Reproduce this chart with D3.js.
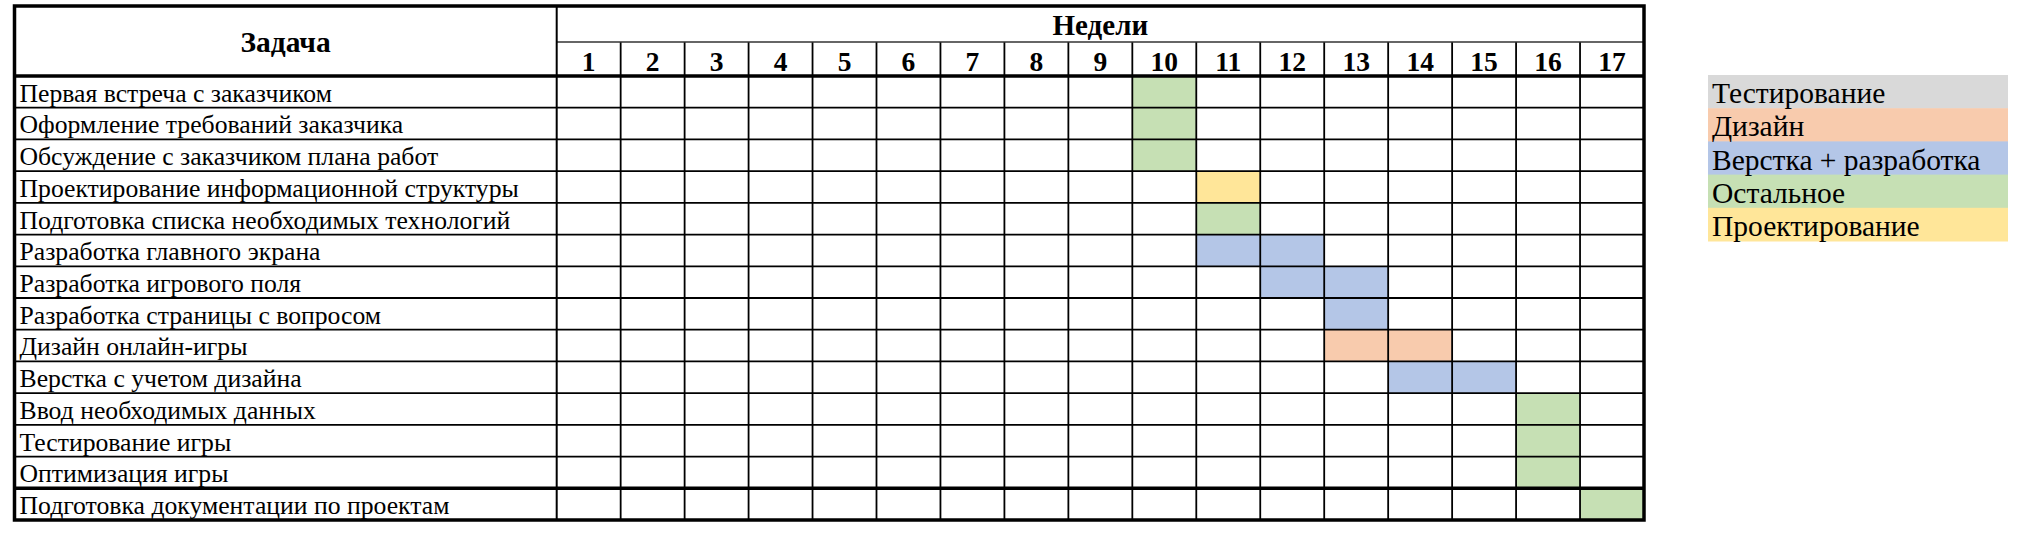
<!DOCTYPE html>
<html><head><meta charset="utf-8">
<script src="https://cdn.jsdelivr.net/npm/d3@7"></script>
<style>html,body{margin:0;padding:0;background:#fff;}svg{display:block;} svg text{font-family:"Liberation Serif","Times New Roman",serif;}</style>
</head><body>
<svg id="chart" width="2020" height="534"></svg>
<script>
const tasks = [
  "Первая встреча с заказчиком",
  "Оформление требований заказчика",
  "Обсуждение с заказчиком плана работ",
  "Проектирование информационной структуры",
  "Подготовка списка необходимых технологий",
  "Разработка главного экрана",
  "Разработка игрового поля",
  "Разработка страницы с вопросом",
  "Дизайн онлайн-игры",
  "Верстка с учетом дизайна",
  "Ввод необходимых данных",
  "Тестирование игры",
  "Оптимизация игры",
  "Подготовка документации по проектам"
];
const taskStartWeek = [10, 10, 10, 11, 11, 11, 12, 13, 13, 14, 16, 16, 16, 17];
const taskEndWeek   = [10, 10, 10, 11, 11, 12, 13, 13, 14, 15, 16, 16, 16, 17];
const taskCategory = [
  "Остальное", "Остальное", "Остальное", "Проектирование", "Остальное",
  "Верстка + разработка", "Верстка + разработка", "Верстка + разработка",
  "Дизайн", "Верстка + разработка", "Остальное", "Остальное", "Остальное", "Остальное"
];
const weekLabels = ["1","2","3","4","5","6","7","8","9","10","11","12","13","14","15","16","17"];
const categories = ["Тестирование", "Дизайн", "Верстка + разработка", "Остальное", "Проектирование"];
const categoryColors = ["#d9d9d9", "#f8cbad", "#b4c6e7", "#c6e0b4", "#ffe699"];

const svg = d3.select("#chart");

const tLeft = 14.5, taskRight = 556.7, tRight = 1644;
const tTop = 6, headMid = 42, headBottom = 76, tBottom = 520;

const x = d3.scaleBand().domain(weekLabels).range([taskRight, tRight]).paddingInner(0).paddingOuter(0);
const y = d3.scaleBand().domain(tasks).range([headBottom, tBottom]).paddingInner(0).paddingOuter(0);
const color = d3.scaleOrdinal().domain(categories).range(categoryColors);

const bars = tasks.map((t, i) => ({task: t, s: taskStartWeek[i], e: taskEndWeek[i], c: taskCategory[i]}));
svg.append("g").selectAll("rect").data(bars).join("rect")
  .attr("x", d => x(String(d.s)))
  .attr("y", d => y(d.task))
  .attr("width", d => x(String(d.e)) + x.bandwidth() - x(String(d.s)))
  .attr("height", y.bandwidth())
  .attr("fill", d => color(d.c));

const g = svg.append("g").attr("stroke", "#000").attr("fill", "none");
tasks.forEach((t, i) => {
  if (i === 0) return;
  const yy = y(t);
  const thick = (i === tasks.length - 1);
  g.append("line").attr("x1", tLeft).attr("x2", tRight).attr("y1", yy).attr("y2", yy)
    .attr("stroke-width", thick ? 3.5 : 1.8);
});
weekLabels.forEach((w, i) => {
  if (i === 0) return;
  const xx = x(w);
  g.append("line").attr("x1", xx).attr("x2", xx).attr("y1", headMid).attr("y2", tBottom).attr("stroke-width", 1.8);
});
g.append("line").attr("x1", taskRight).attr("x2", tRight).attr("y1", headMid).attr("y2", headMid)
  .attr("stroke-width", 1.5).attr("stroke", "#333");
g.append("line").attr("x1", taskRight).attr("x2", taskRight).attr("y1", tTop).attr("y2", tBottom).attr("stroke-width", 2);
g.append("line").attr("x1", tLeft).attr("x2", tRight).attr("y1", headBottom).attr("y2", headBottom).attr("stroke-width", 3.5);
g.append("rect").attr("x", tLeft).attr("y", tTop).attr("width", tRight - tLeft).attr("height", tBottom - tTop)
  .attr("stroke-width", 3.5);

svg.append("text").attr("x", (tLeft + taskRight) / 2).attr("y", 52)
  .attr("text-anchor", "middle").attr("font-weight", "bold")
  .attr("font-size", 29.5).text("Задача");
svg.append("text").attr("x", (taskRight + tRight) / 2).attr("y", 35)
  .attr("text-anchor", "middle").attr("font-weight", "bold")
  .attr("font-size", 29).text("Недели");
svg.append("g").selectAll("text").data(weekLabels).join("text")
  .attr("x", d => x(d) + x.bandwidth() / 2).attr("y", 70.5)
  .attr("text-anchor", "middle").attr("font-weight", "bold")
  .attr("font-size", 27.5).text(d => d);

svg.append("g").selectAll("text").data(tasks).join("text")
  .attr("x", tLeft + 5).attr("y", d => y(d) + y.bandwidth() - 6)
  .attr("font-size", 25.7).attr("fill", "#000").text(d => d);

const ly = d3.scaleBand().domain(categories).range([75, 241]);
const legend = svg.append("g");
legend.selectAll("rect").data(categories).join("rect")
  .attr("x", 1708).attr("y", d => ly(d)).attr("width", 300).attr("height", ly.bandwidth() + 0.5)
  .attr("fill", d => color(d));
legend.selectAll("text").data(categories).join("text")
  .attr("x", 1712).attr("y", d => ly(d) + ly.bandwidth() - 5)
  .attr("font-size", 29.5).attr("fill", "#000").text(d => d);
</script>
</body></html>
